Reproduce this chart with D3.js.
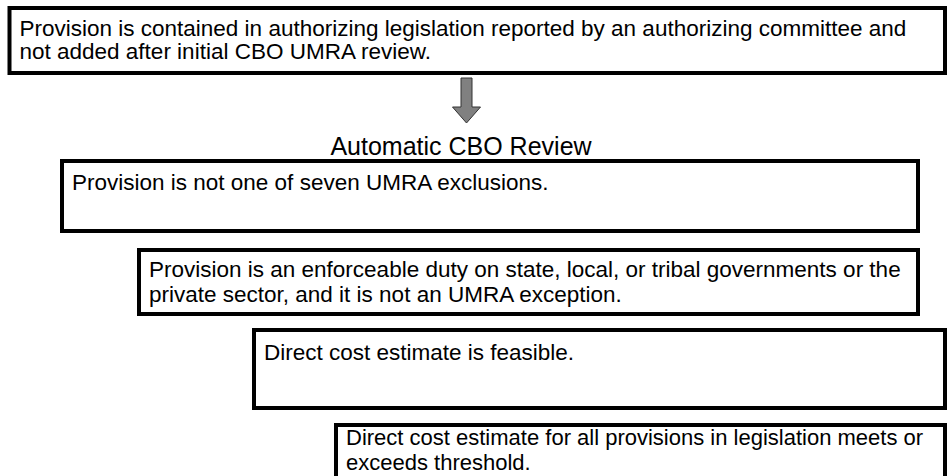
<!DOCTYPE html>
<html lang="en">
<head>
  <meta charset="UTF-8" />
  <title>Automatic CBO Review</title>
  <script src="https://d3js.org/d3.v7.min.js"></script>
  <style>
    body { margin: 0; background: #fff; font-family: "Liberation Sans", Arial, sans-serif; }
    .box rect { fill: #fff; stroke: #000; stroke-width: 4px; }
    .box text { font-size: 22.5px; fill: #000; }
    .box.last text { font-size: 22px; }
    .title { font-size: 25px; fill: #000; }
    .arrow { fill: #808080; stroke: #333; stroke-width: 1px; }
  </style>
</head>
<body>
<svg width="949" height="476"></svg>
<script>
// text of each step, one entry per line
const steps = [
  ["Provision is contained in authorizing legislation reported by an authorizing committee and",
   "not added after initial CBO UMRA review."],
  ["Provision is not one of seven UMRA exclusions."],
  ["Provision is an enforceable duty on state, local, or tribal governments or the",
   "private sector, and it is not an UMRA exception."],
  ["Direct cost estimate is feasible."],
  ["Direct cost estimate for all provisions in legislation meets or",
   "exceeds threshold."]
];
const reviewLabel = "Automatic CBO Review";

// box layout (stroke centres)
const boxLeft   = [9.5, 62, 139, 254, 336];
const boxRight  = [945, 918, 918, 945, 945];
const boxTop    = [8, 161, 250, 330, 425];
const boxBottom = [73, 231, 314, 408, 500];
const firstLine = [28, 29, 27, 30, 20];
const lineGap   = [23, 24, 25, 24, 25];

const svg = d3.select("svg");

const box = svg.append("g")
  .selectAll("g")
  .data(steps)
  .join("g")
  .attr("class", (d, i) => i === steps.length - 1 ? "box last" : "box")
  .attr("transform", (d, i) => `translate(${boxLeft[i]},${boxTop[i]})`);

box.append("rect")
  .attr("width", (d, i) => boxRight[i] - boxLeft[i])
  .attr("height", (d, i) => boxBottom[i] - boxTop[i]);

box.each(function(lines, i) {
  d3.select(this).selectAll("text")
    .data(lines)
    .join("text")
    .attr("x", 10)
    .attr("y", (d, j) => firstLine[i] + j * lineGap[i])
    .text(d => d);
});

// down arrow between first box and the review label
const ax = 466.5, arrowTop = 78, neck = 107, tip = 123, shaft = 5.5, head = 14;
svg.append("path")
  .attr("class", "arrow")
  .attr("d", d3.line()([
    [ax - shaft, arrowTop], [ax + shaft, arrowTop], [ax + shaft, neck], [ax + head, neck],
    [ax, tip], [ax - head, neck], [ax - shaft, neck]
  ]) + "Z");

svg.append("text")
  .attr("class", "title")
  .attr("x", 461)
  .attr("y", 155)
  .attr("text-anchor", "middle")
  .text(reviewLabel);
</script>
</body>
</html>
